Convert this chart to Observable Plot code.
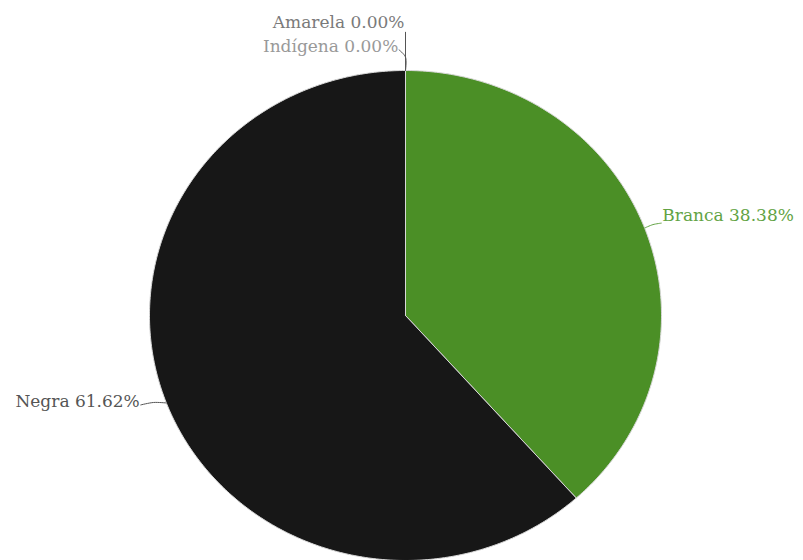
<!DOCTYPE html>
<html><head><meta charset="utf-8">
<script src="https://cdn.jsdelivr.net/npm/d3@7"></script>
<script src="https://cdn.jsdelivr.net/npm/@observablehq/plot@0.6"></script>
<style>body{margin:0;background:#fff}</style></head>
<body><div id="chart"></div>
<script>
const categories = ["Branca", "Negra", "Indígena", "Amarela"];
const values = [38.38, 61.62, 0.00, 0.00];
const sliceColors = ["#4b8f26", "#171717", "#999999", "#777777"];
const labelColors = ["#62a344", "#555555", "#999999", "#7a7a7a"];

const total = d3.sum(values);
let acc = 0;
const slices = categories.map((c, i) => {
  const a0 = acc / total * 2 * Math.PI;
  acc += values[i];
  const a1 = acc / total * 2 * Math.PI;
  return {c, v: values[i], a0, a1, i, m: (a0 + a1) / 2};
});

// wedge outlines in unit coordinates
const wedges = slices.filter(s => s.v > 0).map(s => {
  const pts = [{x: 0, y: 0}];
  const n = Math.max(2, Math.ceil((s.a1 - s.a0) * 90));
  for (let k = 0; k <= n; k++) {
    const a = s.a0 + (s.a1 - s.a0) * k / n;
    pts.push({x: Math.sin(a), y: Math.cos(a)});
  }
  pts.push({x: 0, y: 0});
  return {s, pts};
});

// labels and leader lines
const labels = [];
const leaders = [];
slices.forEach(s => {
  const rx = Math.sin(s.m), ry = Math.cos(s.m);
  if (s.v > 0) {
    const side = rx >= 0 ? 1 : -1;
    const ex = rx + side * (side > 0 ? 0.065 : 0.1);
    const ey = ry + (side > 0 ? 0.02 : -0.008);
    const mid = {x: (rx + ex) / 2, y: (ry + ey) / 2 + (side > 0 ? 0.004 : 0.006)};
    leaders.push({c: s.c, i: s.i, pts: [{x: rx, y: ry}, mid, {x: ex, y: ey}]});
    labels.push({c: s.c, i: s.i, side, x: ex + side * 0.004, y: ey + (side > 0 ? 0.03 : 0.012), text: `${s.c} ${s.v.toFixed(2)}%`});
  }
});
// zero-valued slices stacked above the top
slices.filter(s => s.v === 0).forEach((s, k) => {
  const rx = Math.sin(s.m), ry = Math.cos(s.m);
  const ty = 1 + 0.098 * (k + 1);
  const ex = -0.025 + 0.02 * k;
  leaders.push({c: s.c, i: s.i, pts: k === 0
    ? [{x: rx, y: ry}, {x: rx, y: ry + 0.055}, {x: ex, y: ty - 0.014}]
    : [{x: rx, y: ry}, {x: rx, y: ty - 0.04}]});
  labels.push({c: s.c, i: s.i, side: -1, x: ex - 0.003 + (k ? 0.004 : 0), y: ty, text: `${s.c} ${s.v.toFixed(2)}%`});
});

const marks = [];
wedges.forEach(w => marks.push(Plot.line(w.pts, {x: "x", y: "y", fill: sliceColors[w.s.i], stroke: "#d8d8d8", strokeWidth: 1, strokeLinejoin: "round"})));
leaders.forEach(l => marks.push(Plot.line(l.pts, {x: "x", y: "y", stroke: l.i === 0 ? "#62a344" : "#555", strokeWidth: 1, curve: "catmull-rom"})));
marks.push(Plot.text(labels.filter(d => d.side > 0), {x: "x", y: "y", text: "text", fill: d => labelColors[d.i], textAnchor: "start", fontSize: 17, fontFamily: "DejaVu Serif"}));
marks.push(Plot.text(labels.filter(d => d.side < 0), {x: "x", y: "y", text: "text", fill: d => labelColors[d.i], textAnchor: "end", fontSize: 17, fontFamily: "DejaVu Serif"}));

const chart = Plot.plot({
  width: 803, height: 560,
  margin: 0,
  x: {domain: [-1, 1], range: [405 - 256, 405 + 256], axis: null},
  y: {domain: [-1, 1], range: [315 + 245, 315 - 245], axis: null},
  style: {background: "#fff", overflow: "visible"},
  marks
});
document.getElementById("chart").appendChild(chart);
</script>
</body></html>
